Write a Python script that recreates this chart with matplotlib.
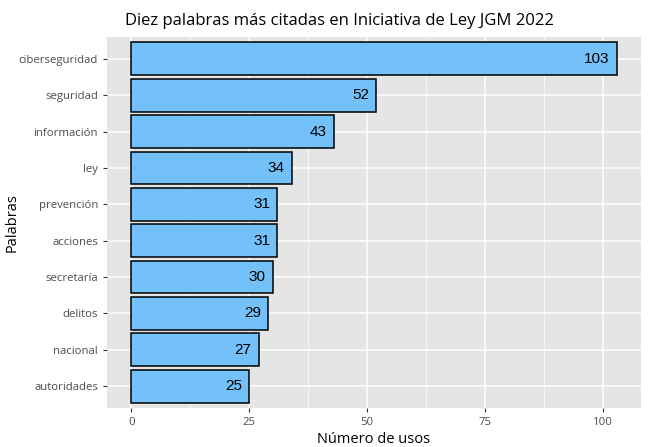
import matplotlib.pyplot as plt
import numpy as np

plt.rcParams['font.family'] = ['Open Sans', 'DejaVu Sans']

# data
palabras = ['ciberseguridad', 'seguridad', 'información', 'ley', 'prevención',
            'acciones', 'secretaría', 'delitos', 'nacional', 'autoridades']
usos = [103, 52, 43, 34, 31, 31, 30, 29, 27, 25]

fig = plt.figure(figsize=(6.53, 4.47), dpi=100)
ax = fig.add_axes([107/653, 1 - 408/447, (641-107)/653, (408-37)/447])

y = np.arange(len(palabras))[::-1]
ax.set_facecolor('#E5E5E5')
ax.barh(y, usos, height=0.9, color='#74C0F9', edgecolor='black', linewidth=1.1, zorder=3)

for yi, v in zip(y, usos):
    ax.text(v - 1.5, yi, str(v), ha='right', va='center', fontsize=11,
            family='Liberation Sans', color='black', zorder=4)

xmax = max(usos)
ax.set_xlim(-0.05 * xmax, 1.05 * xmax)
ax.set_ylim(-0.6, len(palabras) - 0.4)
ax.set_yticks(y)
ax.set_yticklabels(palabras)
ax.set_xticks([0, 25, 50, 75, 100])
ax.set_xticks([12.5, 37.5, 62.5, 87.5], minor=True)
ax.grid(which='major', color='white', linewidth=1.1, zorder=0)
ax.grid(which='minor', axis='x', color='white', linewidth=0.5, zorder=0)
ax.tick_params(which='major', length=3, color='#333333', labelcolor='#4D4D4D', labelsize=8.2)
ax.tick_params(which='minor', length=0)
for s in ax.spines.values():
    s.set_visible(False)

ax.set_xlabel('Número de usos', fontsize=10.5, labelpad=3)
ax.set_ylabel('Palabras', fontsize=10.5)
ax.yaxis.set_label_coords(-87/534, 0.5)
fig.text(125/653, 1 - 21/447, 'Diez palabras más citadas en Iniciativa de Ley JGM 2022',
         fontsize=12, va='center', ha='left')

fig.savefig('out.png', dpi=100)
